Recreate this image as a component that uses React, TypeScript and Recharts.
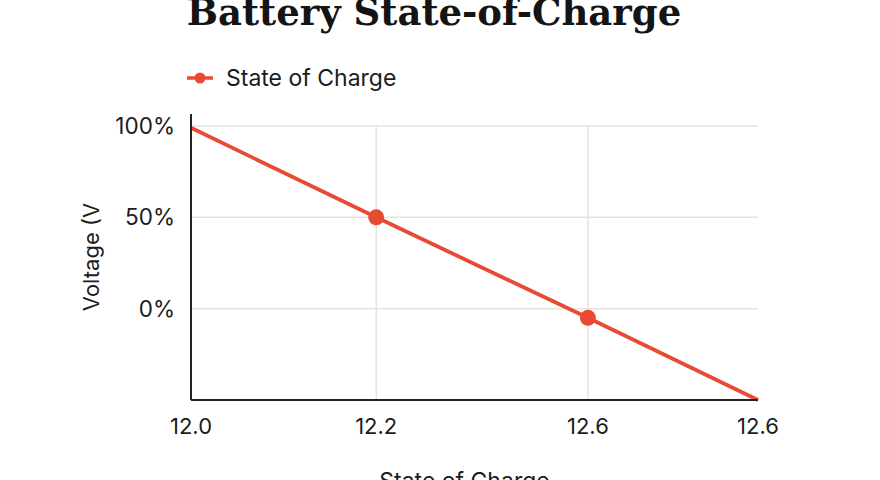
import React from 'react';
import { LineChart, Line, XAxis, YAxis, ReferenceLine, Label } from 'recharts';

// Data
const voltageLabels = ['12.0', '12.2', '12.6', '12.6'];
const voltagePositions = [0, 0.98, 2.1, 3];
const chargeValues = [99, 50, -5, -50];
const showMarker = [false, true, true, false];
const yTicks = [0, 50, 100];

const seriesName = 'State of Charge';
const titleText = 'Battery State-of-Charge';
const xAxisTitle = 'State of Charge';
const yAxisTitle = 'Voltage (V';

const data = voltagePositions.map((x, i) => ({
  x,
  soc: chargeValues[i],
  marker: showMarker[i],
}));

const RED = '#E84B33';
const TEXT = '#1c1c1c';
const GRID = '#e4e4e4';
const SANS = 'Inter, "Noto Sans", sans-serif';

const renderDot = (props: any) => {
  const { cx, cy, payload, index } = props;
  if (!payload || !payload.marker) return <g key={`d-${index}`} />;
  return <circle key={`d-${index}`} cx={cx} cy={cy} r={8} fill={RED} stroke="none" />;
};

export default function App() {
  return (
    <div style={{ position: 'absolute', left: 0, top: 0, width: 880, height: 480, overflow: 'hidden', background: '#fff' }}>
      <LineChart width={880} height={480} data={data} margin={{ top: 114, right: 122, bottom: 0, left: 91 }}>
        {yTicks.map((t) => (
          <ReferenceLine key={`h-${t}`} y={t} stroke={GRID} strokeWidth={1.5} />
        ))}
        <ReferenceLine
          segment={[{ x: voltagePositions[1], y: 100 }, { x: voltagePositions[1], y: -50 }]}
          stroke={GRID}
          strokeWidth={1.5}
        />
        <ReferenceLine
          segment={[{ x: voltagePositions[2], y: 100 }, { x: voltagePositions[2], y: -50 }]}
          stroke={GRID}
          strokeWidth={1.5}
        />
        <XAxis
          dataKey="x"
          type="number"
          domain={[0, 3]}
          ticks={voltagePositions}
          interval={0}
          tickFormatter={(v: number, i: number) => voltageLabels[i]}
          height={80}
          axisLine={{ stroke: '#222', strokeWidth: 2 }}
          tickLine={false}
          tickMargin={12}
          tick={{ fill: TEXT, fontSize: 22, fontFamily: SANS }}
        >
          <Label
            value={xAxisTitle}
            position="insideBottom"
            offset={-9}
            dx={-10}
            style={{ fill: TEXT, fontSize: 23, fontFamily: SANS }}
          />
        </XAxis>
        <YAxis
          type="number"
          domain={[-50, 100]}
          ticks={yTicks}
          interval={0}
          tickFormatter={(v: number) => `${v}%`}
          padding={{ top: 12, bottom: 0 }}
          width={100}
          axisLine={{ stroke: '#222', strokeWidth: 2 }}
          tickLine={false}
          tickMargin={10}
          tick={{ fill: TEXT, fontSize: 22.5, fontFamily: SANS }}
        >
          <Label
            value={yAxisTitle}
            angle={-90}
            position="insideLeft"
            offset={0}
            textAnchor="middle"
            style={{ fill: TEXT, fontSize: 22, fontFamily: SANS, textAnchor: 'middle' }}
          />
        </YAxis>
        <Line
          type="linear"
          dataKey="soc"
          name={seriesName}
          stroke={RED}
          strokeWidth={3.8}
          dot={renderDot}
          activeDot={false}
          isAnimationActive={false}
        />
      </LineChart>
      <svg width={880} height={120} style={{ position: 'absolute', left: 0, top: 0, pointerEvents: 'none' }}>
        <text
          x={434}
          y={25}
          textAnchor="middle"
          style={{ fontFamily: '"DejaVu Serif", serif', fontWeight: 700, fontSize: 37, fill: '#141414' }}
        >
          {titleText}
        </text>
        <line x1={187} y1={78} x2={213} y2={78} stroke={RED} strokeWidth={3.5} />
        <circle cx={200} cy={78} r={5.5} fill={RED} />
        <text x={226} y={86} style={{ fontFamily: SANS, fontSize: 23, fill: TEXT }}>
          {seriesName}
        </text>
      </svg>
    </div>
  );
}
